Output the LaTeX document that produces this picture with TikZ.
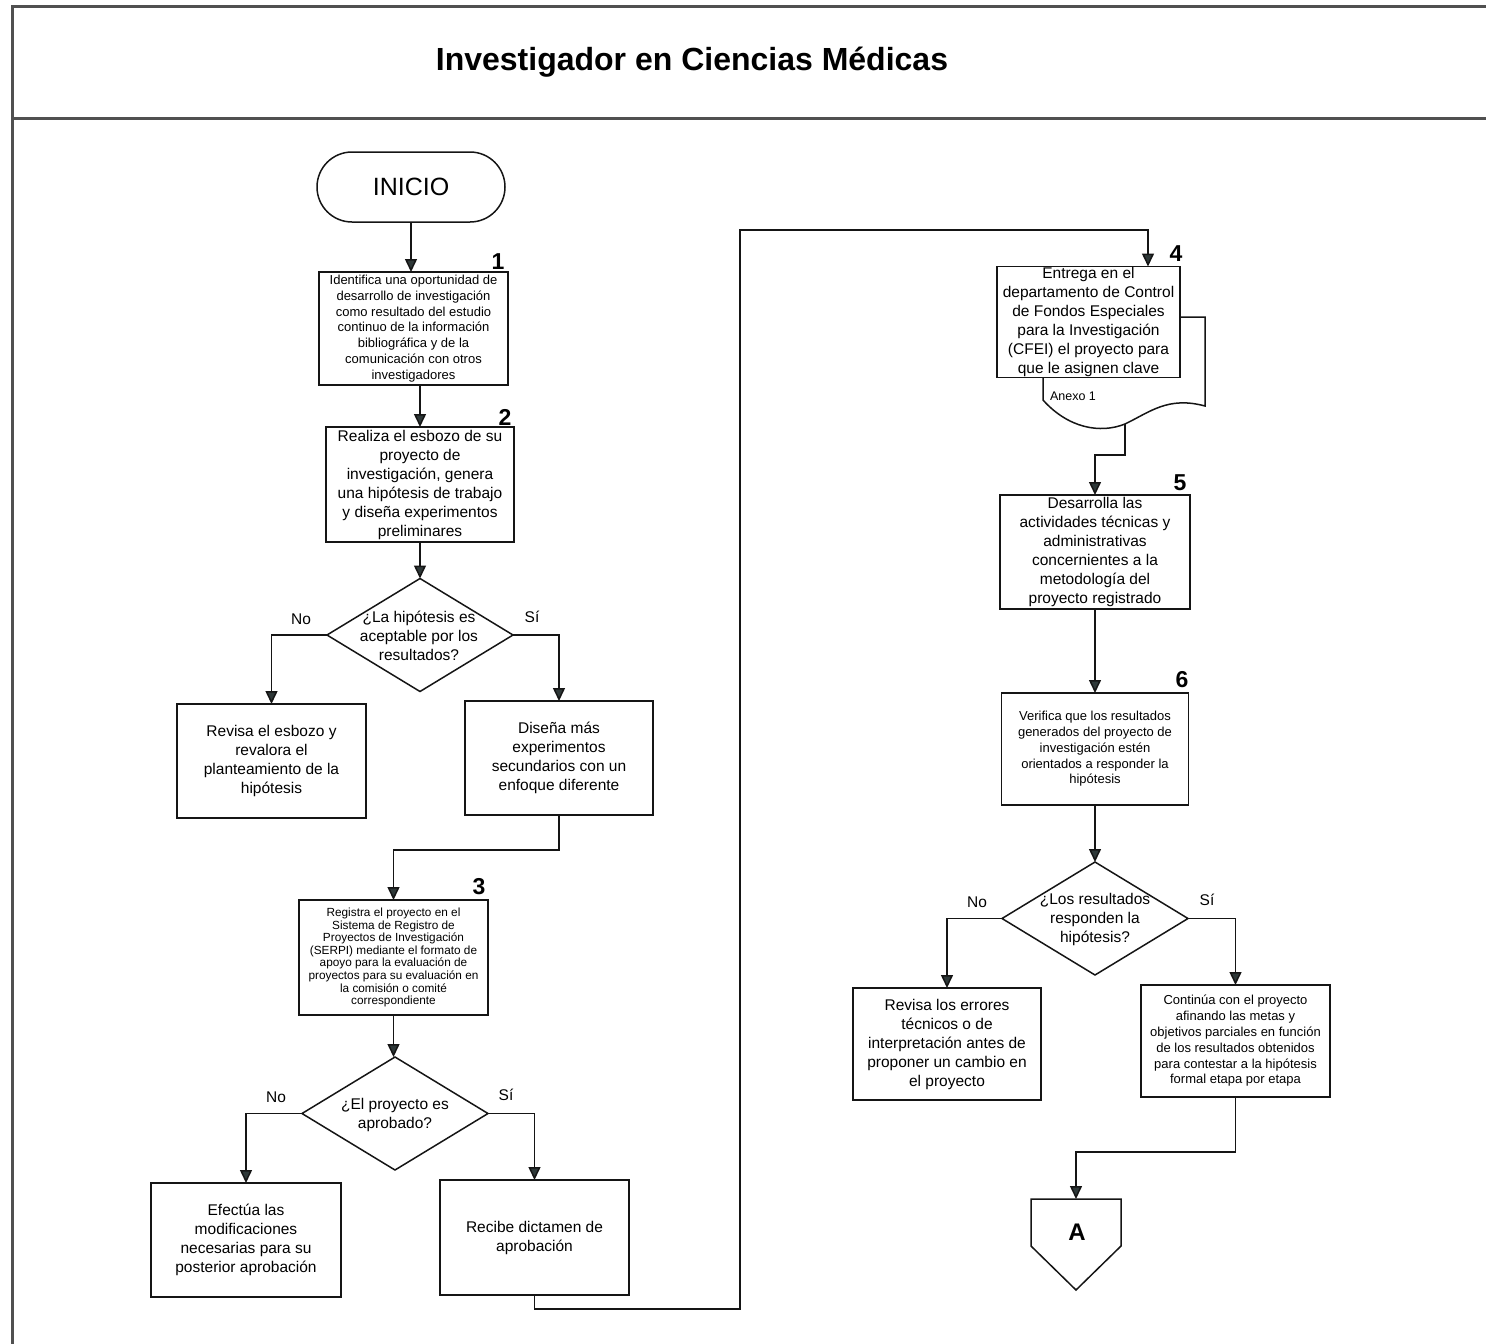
\documentclass[tikz,border=0pt]{standalone}
\usepackage{fontspec}
\setmainfont{Liberation Sans}
\usetikzlibrary{arrows.meta,shapes.geometric}
\definecolor{arrowc}{HTML}{2E3838}
\definecolor{framec}{HTML}{505050}
\definecolor{linec}{HTML}{151515}
\newcommand{\fs}[2]{\fontsize{#1}{#2}\selectfont}
\begin{document}
\begin{tikzpicture}[x=1pt,y=-1pt,
  every node/.style={inner sep=0pt,outer sep=0pt,text=black,align=center},
  box/.style={draw=linec,line width=1.5pt,rectangle,align=center,fill=white},
  dia/.style={draw=linec,line width=1.5pt,diamond,minimum width=186pt,minimum height=113pt},
  conn/.style={draw=linec,line width=1.5pt},
  arr/.style={conn,-{Triangle[length=13pt,width=12pt,fill=arrowc]}},
  num/.style={font=\bfseries\fs{23}{23}},
  yn/.style={font=\fs{15.5}{19}},
  big/.style={font=\fs{15.5}{19}},
  small/.style={font=\fs{13}{15.8}},
  frame/.style={draw=framec,line width=3pt}
]
\useasboundingbox (0,0) rectangle (1486,1344);
% frame
\draw[frame] (12,1344) -- (12,6) -- (1486,6);
\draw[frame] (12,118) -- (1486,118);
\node (title) at (692,62) {\bfseries\fs{32}{32}Investigador en Ciencias Médicas};

% left column
\node[draw=linec,line width=1.5pt,rounded corners=35pt,minimum width=188pt,minimum height=70pt,font=\fs{25}{25}] (ini) at (411,187) {INICIO};
\node[box,minimum width=189pt,minimum height=113pt,font=\fs{13}{15.8}] (b1) at (413.5,328.5)
  {Identifica una oportunidad de\\desarrollo de investigación\\como resultado del estudio\\continuo de la información\\bibliográfica y de la\\comunicación con otros\\investigadores};
\node[num] (n1) at (498,262) {1};
\node[box,big,minimum width=188pt,minimum height=115pt] (b2) at (420,484.5)
  {Realiza el esbozo de su\\proyecto de\\investigación, genera\\una hipótesis de trabajo\\y diseña experimentos\\preliminares};
\node[num] (n2) at (505,417) {2};
\node[dia] (d1) at (420,635) {};
\node[big] (d1t) at (419,636) {¿La hipótesis es\\aceptable por los\\resultados?};
\node[yn] (d1no) at (301,619) {No};
\node[yn] (d1si) at (532,617) {Sí};
\node[box,big,minimum width=189pt,minimum height=114pt] (l1) at (271.5,761)
  {Revisa el esbozo y\\revalora el\\planteamiento de la\\hipótesis};
\node[box,big,minimum width=188pt,minimum height=114pt] (r1) at (559,758)
  {Diseña más\\experimentos\\secundarios con un\\enfoque diferente};
\node[box,minimum width=189pt,minimum height=115pt,font=\fs{11.8}{12.6}] (b3) at (393.5,957.5)
  {Registra el proyecto en el\\Sistema de Registro de\\Proyectos de Investigación\\(SERPI) mediante el formato de\\apoyo para la evaluación de\\proyectos para su evaluación en\\la comisión o comité\\correspondiente};
\node[num] (n3) at (479,887) {3};
\node[dia] (d2) at (395,1113.5) {};
\node[big] (d2t) at (395,1115) {¿El proyecto es\\aprobado?};
\node[yn] (d2no) at (276,1097) {No};
\node[yn] (d2si) at (506,1095) {Sí};
\node[box,big,minimum width=190pt,minimum height=114pt] (l2) at (246,1240)
  {Efectúa las\\modificaciones\\necesarias para su\\posterior aprobación};
\node[box,big,minimum width=189pt,minimum height=115pt] (r2) at (534.5,1237.5)
  {Recibe dictamen de\\aprobación};

% right column
\draw[linec,line width=1.5pt,fill=white] (1180,317) -- (1205,317) -- (1205,406)
  .. controls (1168,396) and (1150,412) .. (1125,424)
  .. controls (1100,434) and (1068,428) .. (1043,400) -- (1043,377);
\coordinate (d4) at (1125,424);
\node[font=\fs{12.5}{12.5}] (anexo) at (1073,396) {Anexo 1};
\node[box,big,minimum width=183pt,minimum height=111pt] (b4) at (1088.5,322)
  {Entrega en el\\departamento de Control\\de Fondos Especiales\\para la Investigación\\(CFEI) el proyecto para\\que le asignen clave};
\node[num] (n4) at (1176,254) {4};
\node[box,big,minimum width=190pt,minimum height=114pt] (b5) at (1095,552)
  {Desarrolla las\\actividades técnicas y\\administrativas\\concernientes a la\\metodología del\\proyecto registrado};
\node[num] (n5) at (1180,483) {5};
\node[box,small,minimum width=187pt,minimum height=112pt] (b6) at (1095,749)
  {Verifica que los resultados\\generados del proyecto de\\investigación estén\\orientados a responder la\\hipótesis};
\node[num] (n6) at (1182,680) {6};
\node[dia] (d3) at (1095,918.5) {};
\node[big] (d3t) at (1095,919) {¿Los resultados\\responden la\\hipótesis?};
\node[yn] (d3no) at (977,902) {No};
\node[yn] (d3si) at (1207,900) {Sí};
\node[box,big,minimum width=188pt,minimum height=112pt] (l3) at (947,1044)
  {Revisa los errores\\técnicos o de\\interpretación antes de\\proponer un cambio en\\el proyecto};
\node[box,small,minimum width=189pt,minimum height=112pt] (r3) at (1235.5,1041)
  {Continúa con el proyecto\\afinando las metas y\\objetivos parciales en función\\de los resultados obtenidos\\para contestar a la hipótesis\\formal etapa por etapa};
% off-page connector
\draw[linec,line width=1.5pt] (1031,1199) -- (1121,1199) -- (1121,1246) -- (1076,1290) -- (1031,1246) -- cycle;
\coordinate (Atop) at (1076,1199);
\node[font=\bfseries\fs{24}{24}] (A) at (1077,1232) {A};

% connectors
\draw[arr] (ini.south) -- (ini.south |- b1.north);
\draw[arr] (b2.north |- b1.south) -- (b2.north);
\draw[arr] (b2.south) -- (d1.north);
\draw[arr] (d1.west) -| (l1.north);
\draw[arr] (d1.east) -| (r1.north);
\draw[arr] (r1.south) -- ++(0,35) -| (b3.north);
\draw[arr] (b3.south) -- (b3.south |- d2.north);
\draw[arr] (d2.west) -| (l2.north);
\draw[arr] (d2.east) -| (r2.north);
\draw[arr] (r2.south) -- (534.5,1309) -- (740,1309) -- (740,230) -- (1148,230) -- (1148,0 |- b4.north);
\draw[arr] (d4) -- (1125,455) -| (b5.north);
\draw[arr] (b5.south) -- (b6.north);
\draw[arr] (b6.south) -- (b6.south |- d3.north);
\draw[arr] (d3.west) -| (l3.north);
\draw[arr] (d3.east) -| (r3.north);
\draw[arr] (r3.south) -- ++(0,55) -| (Atop);
\end{tikzpicture}
\end{document}
